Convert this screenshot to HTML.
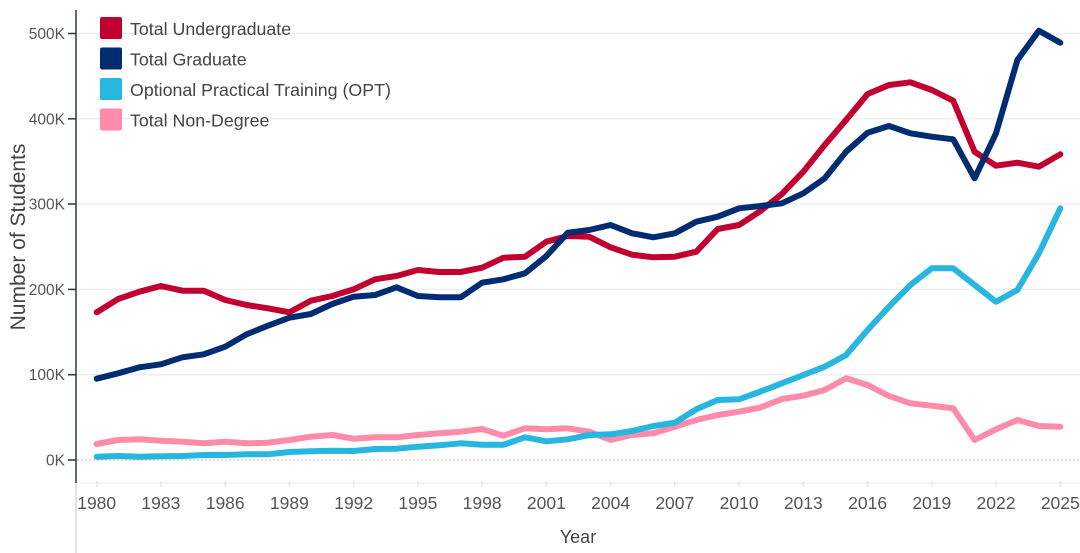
<!DOCTYPE html>
<html>
<head>
<meta charset="utf-8">
<style>
html,body{margin:0;padding:0;background:#fff;}
svg{display:block;}
text{font-family:"Liberation Sans",Arial,sans-serif;}
</style>
</head>
<body>
<svg width="1080" height="553" viewBox="0 0 1080 553" xmlns="http://www.w3.org/2000/svg">
  <!-- gridlines -->
  <g stroke="#efefef" stroke-width="1.5">
    <line x1="77" y1="33.5" x2="1080" y2="33.5"/>
    <line x1="77" y1="118.8" x2="1080" y2="118.8"/>
    <line x1="77" y1="204" x2="1080" y2="204"/>
    <line x1="77" y1="289.4" x2="1080" y2="289.4"/>
    <line x1="77" y1="374.7" x2="1080" y2="374.7"/>
  </g>
  <line x1="77" y1="460" x2="1080" y2="460" stroke="#bdbdbd" stroke-width="1" stroke-dasharray="2,2"/>
  <!-- x axis line -->
  <line x1="76" y1="483" x2="1080" y2="483" stroke="#f0f0f0" stroke-width="1.5"/>
  <g stroke="#e8e8e8" stroke-width="1.5">
    <line x1="96.7" y1="481" x2="96.7" y2="487"/>
    <line x1="160.9" y1="481" x2="160.9" y2="487"/>
    <line x1="225.2" y1="481" x2="225.2" y2="487"/>
    <line x1="289.4" y1="481" x2="289.4" y2="487"/>
    <line x1="353.7" y1="481" x2="353.7" y2="487"/>
    <line x1="417.9" y1="481" x2="417.9" y2="487"/>
    <line x1="482.1" y1="481" x2="482.1" y2="487"/>
    <line x1="546.4" y1="481" x2="546.4" y2="487"/>
    <line x1="610.6" y1="481" x2="610.6" y2="487"/>
    <line x1="674.8" y1="481" x2="674.8" y2="487"/>
    <line x1="739.1" y1="481" x2="739.1" y2="487"/>
    <line x1="803.3" y1="481" x2="803.3" y2="487"/>
    <line x1="867.6" y1="481" x2="867.6" y2="487"/>
    <line x1="931.8" y1="481" x2="931.8" y2="487"/>
    <line x1="996.0" y1="481" x2="996.0" y2="487"/>
    <line x1="1060.3" y1="481" x2="1060.3" y2="487"/>
  </g>
  <!-- y axis -->
  <line x1="76" y1="483" x2="76" y2="553" stroke="#d8d8d8" stroke-width="1.5"/>
  <line x1="76" y1="10" x2="76" y2="483" stroke="#5f6873" stroke-width="2"/>
  <g stroke="#333" stroke-width="1.5">
    <line x1="68" y1="33.5" x2="76" y2="33.5"/>
    <line x1="68" y1="118.8" x2="76" y2="118.8"/>
    <line x1="68" y1="204" x2="76" y2="204"/>
    <line x1="68" y1="289.4" x2="76" y2="289.4"/>
    <line x1="68" y1="374.7" x2="76" y2="374.7"/>
    <line x1="68" y1="460" x2="76" y2="460"/>
  </g>
  <g fill="#555" font-size="15.5" text-anchor="end">
    <text x="65" y="39">500K</text>
    <text x="65" y="124.3">400K</text>
    <text x="65" y="209.5">300K</text>
    <text x="65" y="294.9">200K</text>
    <text x="65" y="380.2">100K</text>
    <text x="65" y="465.5">0K</text>
  </g>
  <g fill="#555" font-size="17.5" text-anchor="middle">
    <text x="96.7" y="509">1980</text>
    <text x="160.9" y="509">1983</text>
    <text x="225.2" y="509">1986</text>
    <text x="289.4" y="509">1989</text>
    <text x="353.7" y="509">1992</text>
    <text x="417.9" y="509">1995</text>
    <text x="482.1" y="509">1998</text>
    <text x="546.4" y="509">2001</text>
    <text x="610.6" y="509">2004</text>
    <text x="674.8" y="509">2007</text>
    <text x="739.1" y="509">2010</text>
    <text x="803.3" y="509">2013</text>
    <text x="867.6" y="509">2016</text>
    <text x="931.8" y="509">2019</text>
    <text x="996.0" y="509">2022</text>
    <text x="1060.3" y="509">2025</text>
  </g>
  <text x="578" y="543" fill="#444" font-size="18" text-anchor="middle">Year</text>
  <text transform="translate(25,237) rotate(-90)" fill="#444" font-size="21" text-anchor="middle">Number of Students</text>

  <!-- series -->
  <g fill="none" stroke-width="6" stroke-linejoin="round" stroke-linecap="round">
    <polyline stroke="#FF8BAA" points="96.7,444 118.1,440 139.5,439.3 160.9,440.7 182.4,441.7 203.8,443.3 225.2,441.7 246.6,443.3 268.0,442.7 289.4,440 310.8,436.7 332.2,435 353.7,438.7 375.1,437.3 396.5,437.3 417.9,435 439.3,433.3 460.7,431.7 482.1,429 503.5,435.7 525.0,428.3 546.4,429.3 567.8,428.3 589.2,431.7 610.6,440 632.0,435 653.4,433.3 674.8,426.7 696.3,420 717.7,415 739.1,411.7 760.5,407.5 781.9,399 803.3,395.7 824.7,390 846.1,378.3 867.6,385 889.0,396 910.4,403.3 931.8,405.7 953.2,408.3 974.6,440 996.0,429.3 1017.4,420 1038.9,426 1060.3,426.7"/>
    <polyline stroke="#26B6E0" points="96.7,456.7 118.1,456 139.5,456.7 160.9,456.3 182.4,456 203.8,455 225.2,455 246.6,454.3 268.0,454.3 289.4,452 310.8,451.3 332.2,450.7 353.7,451 375.1,449 396.5,448.7 417.9,446.7 439.3,445.3 460.7,443.3 482.1,444.7 503.5,444.7 525.0,437.3 546.4,441.3 567.8,439.3 589.2,435 610.6,434.3 632.0,431 653.4,426 674.8,422.7 696.3,409.3 717.7,400 739.1,399.3 760.5,391.5 781.9,383.3 803.3,375 824.7,366.7 846.1,355 867.6,330 889.0,306.7 910.4,285 931.8,268.3 953.2,268.3 974.6,285 996.0,301.7 1017.4,290 1038.9,253.3 1060.3,208.3"/>
    <polyline stroke="#C20030" points="96.7,312.3 118.1,299 139.5,291.7 160.9,286 182.4,290.7 203.8,290.7 225.2,300 246.6,305 268.0,308.3 289.4,312.3 310.8,300.7 332.2,296 353.7,289.3 375.1,279.3 396.5,276 417.9,270 439.3,272 460.7,272 482.1,267.7 503.5,257.7 525.0,256.7 546.4,241.7 567.8,236 589.2,236.7 610.6,247.3 632.0,254.7 653.4,257.3 674.8,256.7 696.3,251.7 717.7,229 739.1,225 760.5,211 781.9,194 803.3,171.7 824.7,145 846.1,120 867.6,94 889.0,85 910.4,82.3 931.8,90 953.2,100.7 974.6,151.7 996.0,165.7 1017.4,162.7 1038.9,166.7 1060.3,154.3"/>
    <polyline stroke="#002D72" points="96.7,378.7 118.1,373.3 139.5,367.3 160.9,364.3 182.4,357.3 203.8,354.3 225.2,346.7 246.6,334.3 268.0,325.7 289.4,317.7 310.8,314 332.2,304 353.7,296.7 375.1,295 396.5,287.3 417.9,296 439.3,297.3 460.7,297.3 482.1,282.7 503.5,279.3 525.0,273.3 546.4,256 567.8,232.7 589.2,230 610.6,225 632.0,233.3 653.4,237.3 674.8,233.3 696.3,221.7 717.7,216.7 739.1,208.3 760.5,206 781.9,203.3 803.3,193.3 824.7,178.3 846.1,151.7 867.6,132.7 889.0,126 910.4,133.3 931.8,136.7 953.2,139.3 974.6,178.3 996.0,133.3 1017.4,60 1038.9,30.7 1060.3,42.7"/>
  </g>

  <!-- legend -->
  <g>
    <rect x="100" y="17" width="22" height="22" rx="2" fill="#C20030"/>
    <rect x="100" y="47.5" width="22" height="22" rx="2" fill="#002D72"/>
    <rect x="100" y="78" width="22" height="22" rx="2" fill="#26B6E0"/>
    <rect x="100" y="108.5" width="22" height="22" rx="2" fill="#FF8BAA"/>
  </g>
  <g fill="#444" font-size="17.8">
    <text x="130" y="35">Total Undergraduate</text>
    <text x="130" y="65.5">Total Graduate</text>
    <text x="130" y="96">Optional Practical Training (OPT)</text>
    <text x="130" y="126.5">Total Non-Degree</text>
  </g>
</svg>
</body>
</html>
